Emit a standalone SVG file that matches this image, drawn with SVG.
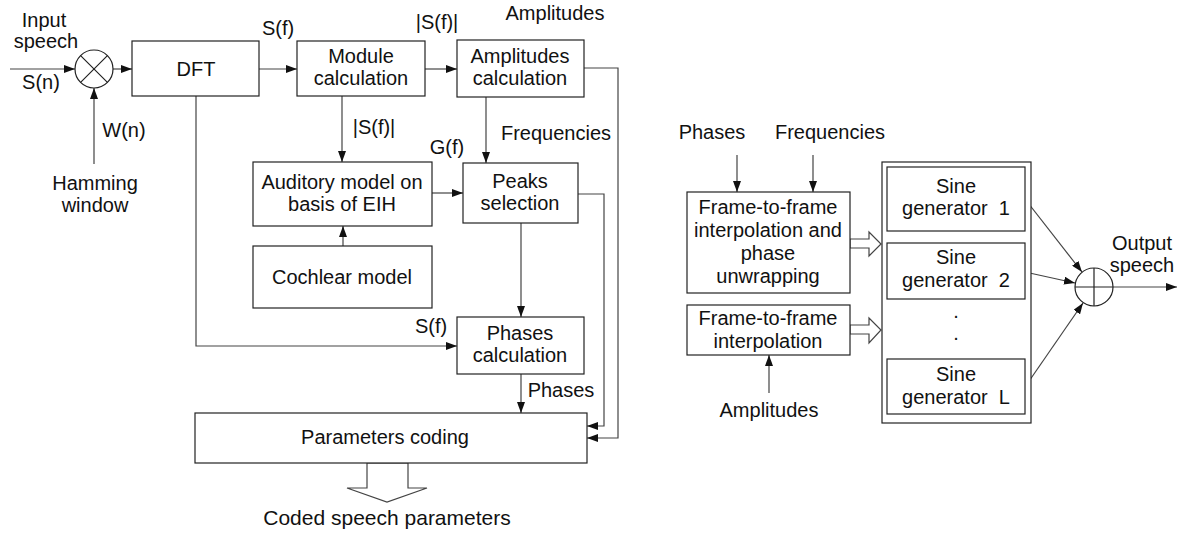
<svg xmlns="http://www.w3.org/2000/svg" width="1178" height="535" viewBox="0 0 1178 535">
<style>
text{font-family:"Liberation Sans",Arial,sans-serif;font-size:20px;fill:#111;text-anchor:middle}
.box{fill:#fff;stroke:#222;stroke-width:1.2}
.c{fill:none;stroke:#444;stroke-width:1.2}
.ha{fill:#fff;stroke:#444;stroke-width:1.2}
</style>
<defs>
<marker id="ah" markerUnits="userSpaceOnUse" markerWidth="11" markerHeight="8" refX="11" refY="4" orient="auto">
<path d="M0,0 L11,4 L0,8 z" fill="#111"/>
</marker>
</defs>
<g id="connectors">
<path class="c" d="M10,69 H75" marker-end="url(#ah)"/>
<path class="c" d="M113,69 H132" marker-end="url(#ah)"/>
<path class="c" d="M94,164 V88" marker-end="url(#ah)"/>
<path class="c" d="M259,69 H297" marker-end="url(#ah)"/>
<path class="c" d="M425,69 H457" marker-end="url(#ah)"/>
<path class="c" d="M342,96 V162" marker-end="url(#ah)"/>
<path class="c" d="M486,97 V163" marker-end="url(#ah)"/>
<path class="c" d="M432,193 H463" marker-end="url(#ah)"/>
<path class="c" d="M343,246 V226" marker-end="url(#ah)"/>
<path class="c" d="M521,223 V317" marker-end="url(#ah)"/>
<path class="c" d="M196,96 V346 H457" marker-end="url(#ah)"/>
<path class="c" d="M521,374 V413" marker-end="url(#ah)"/>
<path class="c" d="M578,194 H604 V426 H587" marker-end="url(#ah)"/>
<path class="c" d="M584,68 H618 V438 H587" marker-end="url(#ah)"/>
<polygon class="ha" points="367,463 367,488 347,488 387,502 427,488 408,488 408,463"/>
<path class="c" d="M737,155 V192" marker-end="url(#ah)"/>
<path class="c" d="M813,155 V192" marker-end="url(#ah)"/>
<path class="c" d="M769,393 V355" marker-end="url(#ah)"/>
<polygon class="ha" points="850,239 869,239 869,232 881,244 869,256 869,248 850,248"/>
<polygon class="ha" points="850,325 869,325 869,318 881,330 869,343 869,334 850,334"/>
<path class="c" d="M1025,199 L1082,272" marker-end="url(#ah)"/>
<path class="c" d="M1025,272 L1075,283" marker-end="url(#ah)"/>
<path class="c" d="M1025,387 L1083,303" marker-end="url(#ah)"/>
<path class="c" d="M1113,287 H1177" marker-end="url(#ah)"/>
</g>
<g id="labels">
<text x="44" y="27">Input</text>
<text x="46" y="48">speech</text>
<text x="41" y="89">S(n)</text>
<text x="124" y="137">W(n)</text>
<text x="95" y="190">Hamming</text>
<text x="95" y="212">window</text>
<text x="278" y="35">S(f)</text>
<text x="437" y="29">|S(f)|</text>
<text x="555" y="20">Amplitudes</text>
<text x="374" y="134">|S(f)|</text>
<text x="447" y="154">G(f)</text>
<text x="556" y="140">Frequencies</text>
<text x="431" y="333">S(f)</text>
<text x="561" y="397">Phases</text>
<text x="387" y="525" style="font-size:21px">Coded speech parameters</text>
<text x="712" y="139">Phases</text>
<text x="830" y="139">Frequencies</text>
<text x="769" y="417">Amplitudes</text>
<text x="1142" y="250">Output</text>
<text x="1142" y="272">speech</text>
</g>
<g id="mult">
<circle cx="94" cy="69" r="19" fill="#fff" stroke="#222" stroke-width="1.2"/>
<path d="M80.6,55.6 L107.4,82.4 M107.4,55.6 L80.6,82.4" stroke="#222" stroke-width="1.2"/>
</g>
<g id="dft"><rect class="box" x="132" y="41" width="127" height="55"/><text x="196" y="76">DFT</text></g>
<g id="module"><rect class="box" x="297" y="41" width="128" height="55"/><text x="361" y="63">Module</text><text x="361" y="85">calculation</text></g>
<g id="amplitudes"><rect class="box" x="457" y="40" width="127" height="57"/><text x="520" y="63">Amplitudes</text><text x="520" y="85">calculation</text></g>
<g id="auditory"><rect class="box" x="253" y="162" width="179" height="64"/><text x="342" y="189">Auditory model on</text><text x="342" y="211">basis of EIH</text></g>
<g id="peaks"><rect class="box" x="463" y="163" width="115" height="60"/><text x="520" y="188">Peaks</text><text x="520" y="210">selection</text></g>
<g id="cochlear"><rect class="box" x="253" y="246" width="179" height="62"/><text x="342" y="284">Cochlear model</text></g>
<g id="phases"><rect class="box" x="457" y="317" width="127" height="57"/><text x="520" y="340">Phases</text><text x="520" y="362">calculation</text></g>
<g id="paramcoding"><rect class="box" x="195" y="413" width="392" height="50"/><text x="385" y="444">Parameters coding</text></g>
<g id="interp1"><rect class="box" x="687" y="192" width="163" height="101"/><text x="768" y="214">Frame-to-frame</text><text x="768" y="237">interpolation and</text><text x="768" y="260">phase</text><text x="768" y="283">unwrapping</text></g>
<g id="interp2"><rect class="box" x="687" y="305" width="163" height="50"/><text x="768" y="325">Frame-to-frame</text><text x="768" y="348">interpolation</text></g>
<g id="sinebank">
<rect class="box" x="882" y="162" width="149" height="261"/>
<text x="956" y="318">.</text><text x="956" y="340">.</text>
</g>
<g id="sine1"><rect class="box" x="887" y="167" width="138" height="64"/><text x="956" y="193">Sine</text><text x="956" y="215" xml:space="preserve">generator  1</text></g>
<g id="sine2"><rect class="box" x="887" y="243" width="138" height="56"/><text x="956" y="264">Sine</text><text x="956" y="287" xml:space="preserve">generator  2</text></g>
<g id="sineL"><rect class="box" x="887" y="359" width="138" height="55"/><text x="956" y="381">Sine</text><text x="956" y="404" xml:space="preserve">generator  L</text></g>
<g id="sum">
<circle cx="1094" cy="287" r="19" fill="#fff" stroke="#222" stroke-width="1.2"/>
<path d="M1075,287 H1113 M1094,268 V306" stroke="#222" stroke-width="1.2"/>
</g>
</svg>
